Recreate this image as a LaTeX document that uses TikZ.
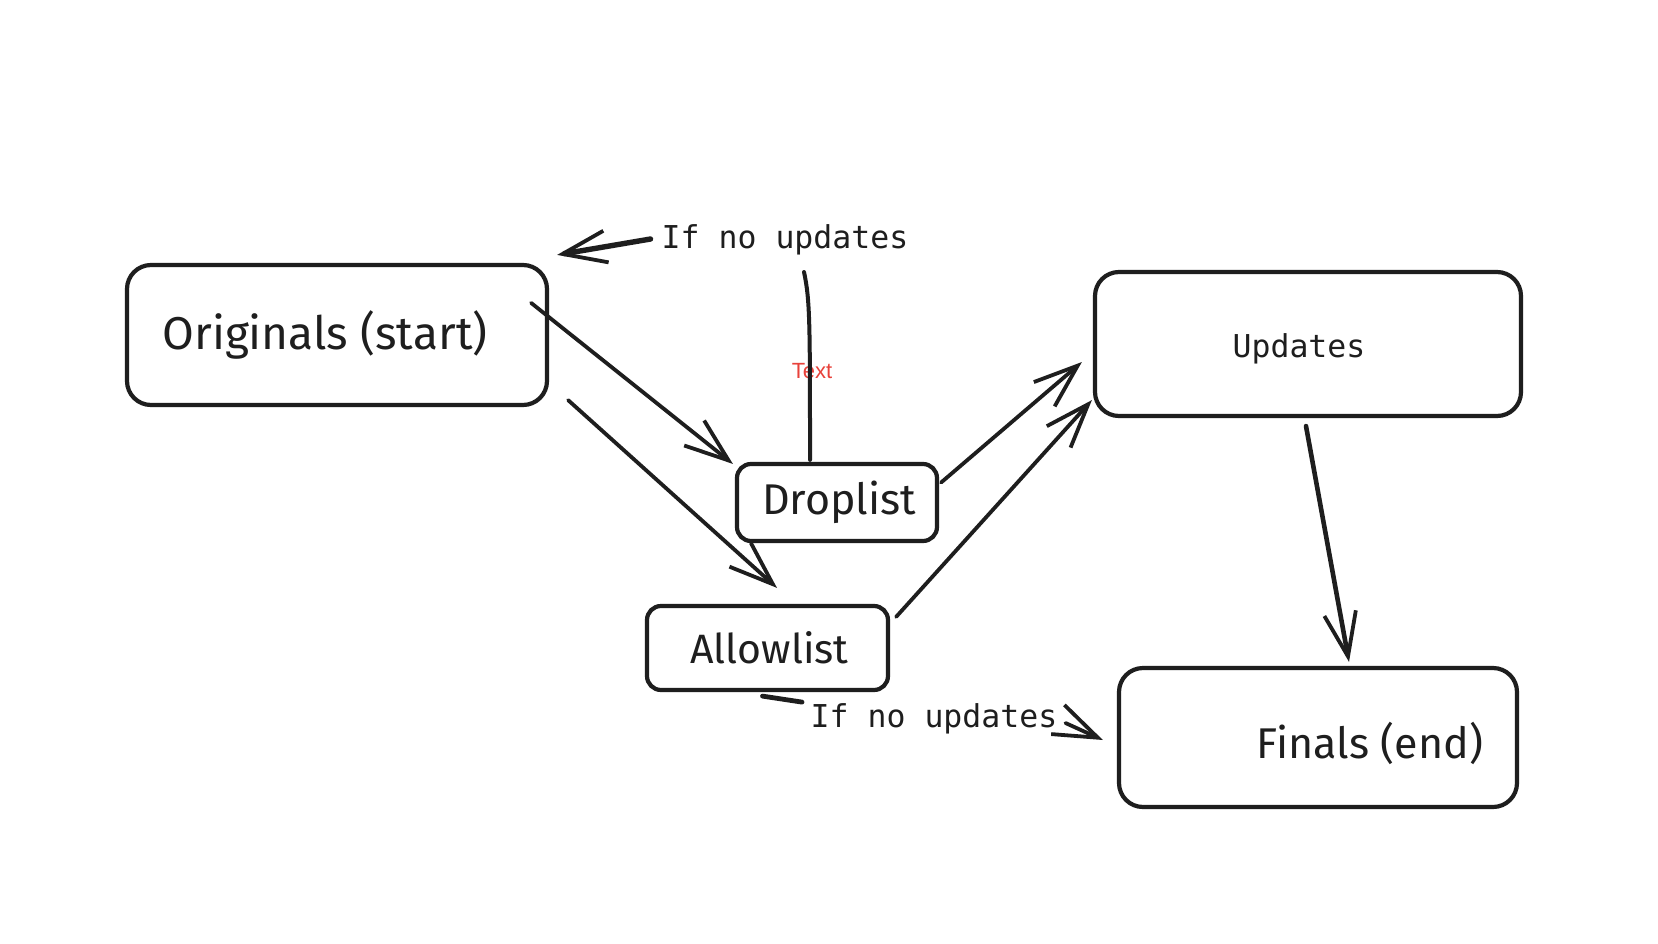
\documentclass[tikz,border=0pt]{standalone}
\usepackage{fontspec}
\setmainfont{Fira Sans}
\newfontfamily\monof{DejaVu Sans Mono}
\newfontfamily\redf{Liberation Sans}
\usetikzlibrary{arrows.meta,calc}
\definecolor{ink}{HTML}{1E1E1E}
\definecolor{redtxt}{HTML}{E8413A}
\begin{document}
\begin{tikzpicture}[x=1pt,y=-1pt,
  box/.style={draw=ink, line width=4.2pt, rounded corners=24pt, inner sep=0pt},
  smallbox/.style={box, rounded corners=14pt},
  hand/.style={font=\fontsize{#1}{48}\selectfont, text=ink},
  mono/.style={font=\monof\fontsize{31.5}{36}\selectfont, text=ink, inner sep=0pt},
  conn/.style={draw=ink, line width=3.8pt, line cap=round,
    -{Straight Barb[length=44pt,width=32pt,line width=3.8pt]}},
  plain/.style={draw=ink, line width=4pt, line cap=round},
]
\useasboundingbox[fill=white] (0,0) rectangle (1658,943);

% boxes
\node[box, minimum width=420pt, minimum height=140pt, hand=46] (orig) at (337,335) {\hspace*{-24pt}Originals (start)};
\node[smallbox, minimum width=200pt, minimum height=77pt, hand=43] (drop) at (837,502.5) {\hspace*{4pt}Droplist};
\node[smallbox, minimum width=241pt, minimum height=84pt, hand=41] (allow) at (767.5,648) {\hspace*{4pt}Allowlist};
\node[box, minimum width=426pt, minimum height=144pt] (upd) at (1308,344) {};
\node[mono] (updtxt) at (1299,349) {Updates};
\node[box, minimum width=398pt, minimum height=139pt] (fin) at (1318,737.5) {};
\node[hand=43, inner sep=0pt] (fintxt) at (1370,743) {Finals (end)};

% labels
\node[mono] (lab1) at (785,240) {If no updates};
\node[mono] (lab2) at (934,719) {If no updates};
\node[font=\redf\fontsize{22}{26}\selectfont, text=redtxt, inner sep=0pt] (red) at (812,371) {Text};

% connectors
\draw[conn] ($(orig.north east)+(-18,40)$) -- ($(drop.north west)+(-2,2)$);
\draw[conn] ($(orig.south east)+(19,-7)$) -- ($(allow.north)+(9.5,-16)$);
\draw[conn] ($(drop.east)+(2,-20)$) -- ($(upd.west)+(-11,18)$);
\draw[conn] ($(allow.north east)+(6,13)$) -- ($(upd.south west)+(-1,-18)$);
\draw[conn, line width=4.6pt] ($(upd.south)+(-2,8)$) -- ($(fin.north)+(31,-4)$);
\draw[conn] ($(lab2.east)+(8,4)$) -- ($(fin.west)+(-14,2.5)$);
\draw[conn, line width=5.4pt] ($(lab1.west)+(-11,-1)$) -- ($(orig.north east)+(8,-8)$);
\draw[plain] ($(lab1.center)+(19,32)$) .. controls ($(lab1.center)+(25,60)$) and ($(drop.north)+(-27,-140)$) .. ($(drop.north)+(-27,-2)$);
\draw[plain, line width=4.8pt] ($(allow.south)+(34.5,10)$) -- ($(allow.south)+(-5,4)$);
\end{tikzpicture}
\end{document}
